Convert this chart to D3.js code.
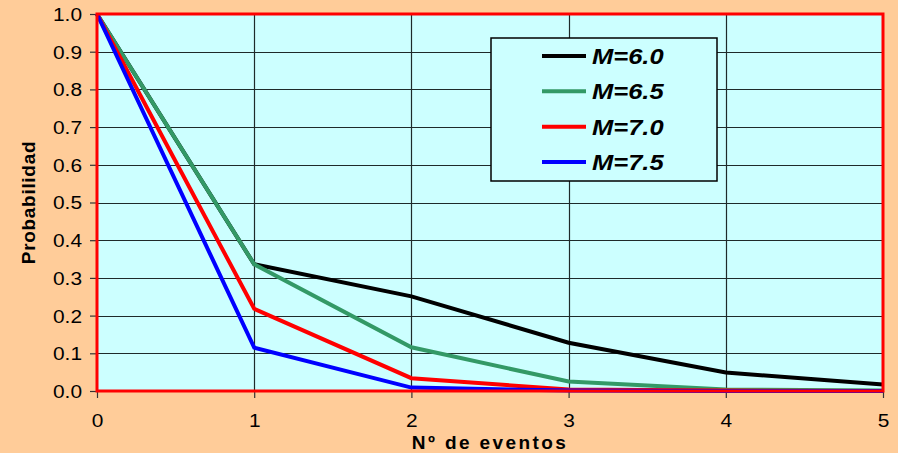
<!DOCTYPE html>
<html>
<head>
<meta charset="utf-8">
<script src="https://cdn.jsdelivr.net/npm/d3@7"></script>
<style>
  html, body { margin: 0; padding: 0; background: #FFCC99; }
  svg { display: block; }
  text { font-family: Arial, "Liberation Sans", sans-serif; fill: #000; }
</style>
</head>
<body>
<svg id="chart" width="898" height="453"></svg>
<script>
// Number of events on the x axis
const eventos = [0, 1, 2, 3, 4, 5];

// Probability for each magnitude threshold
const serieM60 = [1.0, 0.336, 0.251, 0.128, 0.049, 0.017];
const serieM65 = [1.0, 0.336, 0.116, 0.025, 0.004, 0.001];
const serieM70 = [1.0, 0.218, 0.034, 0.004, 0.001, 0.0];
const serieM75 = [1.0, 0.115, 0.009, 0.001, 0.0, 0.0];

const seriesNames = ["M=6.0", "M=6.5", "M=7.0", "M=7.5"];
const seriesColors = ["#000000", "#339966", "#FF0000", "#0000FF"];

const yTicks = [0, 0.1, 0.2, 0.3, 0.4, 0.5, 0.6, 0.7, 0.8, 0.9, 1.0];
const xTicks = [0, 1, 2, 3, 4, 5];

const series = [serieM60, serieM65, serieM70, serieM75].map((vals, i) => ({
  name: seriesNames[i],
  color: seriesColors[i],
  values: vals.map((v, j) => ({ x: eventos[j], y: v }))
}));

const svg = d3.select("#chart");
const W = 898, H = 453;
const plot = { left: 97, top: 14, right: 883, bottom: 391 };
const sx = 1.16; // horizontal widening of the lettering

const x = d3.scaleLinear().domain([0, 5]).range([plot.left, plot.right]);
const y = d3.scaleLinear().domain([0, 1]).range([plot.bottom, plot.top]);

svg.append("rect").attr("width", W).attr("height", H).attr("fill", "#FFCC99");

// plot area
svg.append("rect")
  .attr("x", plot.left).attr("y", plot.top)
  .attr("width", plot.right - plot.left).attr("height", plot.bottom - plot.top)
  .attr("fill", "#CCFFFF");

// grid
const grid = svg.append("g").attr("stroke", "#1e2a2a").attr("stroke-width", 1.2);
grid.selectAll("line.h").data(yTicks.slice(1, -1)).join("line")
  .attr("x1", plot.left).attr("x2", plot.right)
  .attr("y1", d => Math.round(y(d)) + 0.5).attr("y2", d => Math.round(y(d)) + 0.5);
grid.selectAll("line.v").data(xTicks.slice(1, -1)).join("line")
  .attr("y1", plot.top).attr("y2", plot.bottom)
  .attr("x1", d => Math.round(x(d)) + 0.5).attr("x2", d => Math.round(x(d)) + 0.5);

// axes
const yAxis = svg.append("g")
  .attr("transform", `translate(${plot.left},0)`)
  .call(d3.axisLeft(y).tickValues(yTicks).tickFormat(d3.format(".1f")).tickSize(7).tickPadding(8));
const xAxis = svg.append("g")
  .attr("transform", `translate(0,${plot.bottom})`)
  .call(d3.axisBottom(x).tickValues(xTicks).tickFormat(d3.format("d")).tickSize(7).tickPadding(16));

[yAxis, xAxis].forEach(ax => {
  ax.select(".domain").remove();
  ax.selectAll(".tick line").attr("stroke", "#333").attr("stroke-width", 1.2);
  ax.selectAll(".tick text")
    .style("font-family", "Arial, 'Liberation Sans', sans-serif")
    .style("font-size", "18px")
    .attr("fill", "#000");
});
yAxis.selectAll(".tick text")
  .attr("x", -15 / sx)
  .attr("dy", "0.36em")
  .attr("transform", `scale(${sx},1)`);
xAxis.selectAll(".tick text")
  .attr("transform", `scale(${sx},1)`);

// lines
const line = d3.line().x(d => x(d.x)).y(d => y(d.y));
svg.append("g").selectAll("path").data(series).join("path")
  .attr("d", d => line(d.values))
  .attr("fill", "none")
  .attr("stroke", d => d.color)
  .attr("stroke-width", 4)
  .attr("stroke-linejoin", "miter");

// plot border
svg.append("rect")
  .attr("x", plot.left).attr("y", plot.top)
  .attr("width", plot.right - plot.left).attr("height", plot.bottom - plot.top)
  .attr("fill", "none").attr("stroke", "#FF0000").attr("stroke-width", 3);

// legend
const lg = { x: 491, y: 38, w: 226, h: 143 };
const legend = svg.append("g");
legend.append("rect")
  .attr("x", lg.x).attr("y", lg.y).attr("width", lg.w).attr("height", lg.h)
  .attr("fill", "#CCFFFF").attr("stroke", "#000").attr("stroke-width", 1.5);
const rowY = d3.scalePoint().domain(seriesNames).range([56, 162]);
const items = legend.selectAll("g.item").data(series).join("g")
  .attr("transform", d => `translate(0,${rowY(d.name)})`);
items.append("line")
  .attr("x1", 542).attr("x2", 586).attr("y1", 0).attr("y2", 0)
  .attr("stroke", d => d.color).attr("stroke-width", 4);
items.append("text")
  .attr("transform", `translate(592,0) scale(${sx},1)`)
  .attr("dy", "0.36em")
  .style("font-size", "22px").style("font-weight", "bold").style("font-style", "italic")
  .text(d => d.name);

// axis titles
svg.append("text")
  .attr("transform", `translate(${(plot.left + plot.right) / 2},449)`)
  .attr("text-anchor", "middle")
  .style("font-size", "19px").style("font-weight", "bold").style("letter-spacing", "2.4px")
  .text("Nº de eventos");
svg.append("text")
  .attr("transform", `translate(35,${(plot.top + plot.bottom) / 2}) rotate(-90)`)
  .attr("text-anchor", "middle")
  .style("font-size", "19px").style("font-weight", "bold").style("letter-spacing", "0.7px")
  .text("Probabilidad");
</script>
</body>
</html>
